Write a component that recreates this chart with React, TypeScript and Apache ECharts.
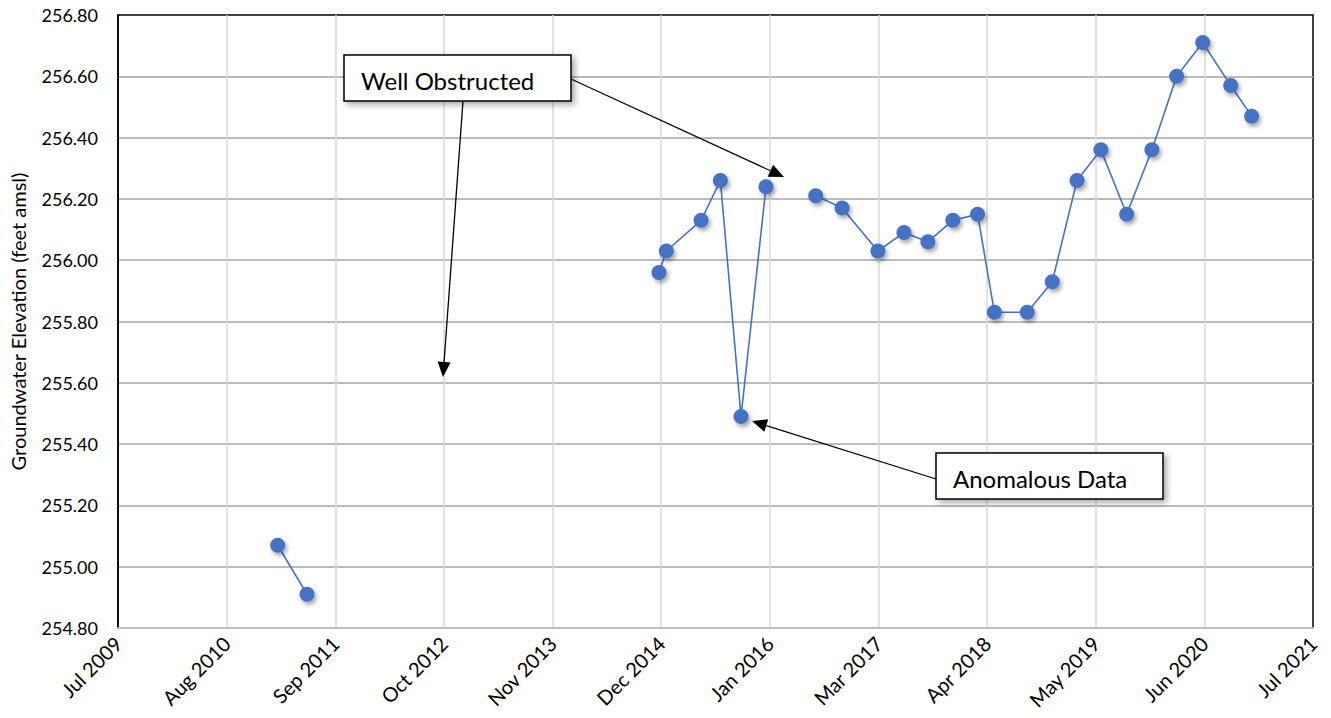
import React, { useEffect, useRef } from "react";
import * as echarts from "echarts";

// Groundwater elevation readings (feet amsl), split where the record has gaps
const dates2011 = ["2011-02-14", "2011-06-02"];
const levels2011 = [255.07, 254.91];

const dates2014 = ["2014-12-19", "2015-01-15", "2015-05-23", "2015-08-02", "2015-10-17", "2016-01-17"];
const levels2014 = [255.96, 256.03, 256.13, 256.26, 255.49, 256.24];

const dates2016 = [
  "2016-07-18", "2016-10-23", "2017-03-04", "2017-06-08", "2017-09-04", "2017-12-05",
  "2018-03-06", "2018-05-07", "2018-09-05", "2018-12-06", "2019-03-07", "2019-06-03",
  "2019-09-06", "2019-12-08", "2020-03-08", "2020-06-12", "2020-09-23", "2020-12-09",
];
const levels2016 = [
  256.21, 256.17, 256.03, 256.09, 256.06, 256.13,
  256.15, 255.83, 255.83, 255.93, 256.26, 256.36,
  256.15, 256.36, 256.60, 256.71, 256.57, 256.47,
];

// Axis settings (Excel-style date serials)
const xMin = 40000;
const xMax = 44400;
const xStep = 400;
const yMin = 254.8;
const yMax = 256.8;
const yStep = 0.2;

const MONTHS = ["Jan", "Feb", "Mar", "Apr", "May", "Jun", "Jul", "Aug", "Sep", "Oct", "Nov", "Dec"];
const EPOCH = Date.UTC(1899, 11, 30);
const toSerial = (s: string) => {
  const [y, m, d] = s.split("-").map(Number);
  return Math.round((Date.UTC(y, m - 1, d) - EPOCH) / 86400000);
};
const serialLabel = (v: number) => {
  const dt = new Date(EPOCH + v * 86400000);
  return MONTHS[dt.getUTCMonth()] + " " + dt.getUTCFullYear();
};

const FONT = "Lato, 'Open Sans', sans-serif";
const BLUE = "#4472C4";

function arrow(x1: number, y1: number, x2: number, y2: number) {
  const len = 15;
  const hw = 6.5;
  const dx = x2 - x1;
  const dy = y2 - y1;
  const L = Math.hypot(dx, dy);
  const ux = dx / L;
  const uy = dy / L;
  const bx = x2 - ux * len;
  const by = y2 - uy * len;
  return [
    { type: "line", z: 50, shape: { x1, y1, x2: bx, y2: by }, style: { stroke: "#000", lineWidth: 1.3 } },
    {
      type: "polygon",
      z: 50,
      shape: { points: [[x2, y2], [bx - uy * hw, by + ux * hw], [bx + uy * hw, by - ux * hw]] },
      style: { fill: "#000" },
    },
  ];
}

function box(x: number, y: number, w: number, h: number, text: string, tx: number) {
  return [
    {
      type: "rect",
      z: 60,
      shape: { x, y, width: w, height: h },
      style: {
        fill: "#fff",
        stroke: "#000",
        lineWidth: 1.5,
        shadowBlur: 6,
        shadowOffsetX: 3,
        shadowOffsetY: 3,
        shadowColor: "rgba(0,0,0,0.35)",
      },
    },
    {
      type: "text",
      z: 61,
      x: tx,
      y: y + h / 2 + 2,
      style: { text, fontSize: 24, fontFamily: FONT, fill: "#000", verticalAlign: "middle", align: "left" },
    },
  ];
}

function makeSeries(dates: string[], levels: number[]) {
  return {
    type: "line",
    data: dates.map((d, i) => [toSerial(d), levels[i]]),
    symbol: "circle",
    symbolSize: 15,
    itemStyle: {
      color: BLUE,
      shadowBlur: 4,
      shadowOffsetX: 2,
      shadowOffsetY: 3,
      shadowColor: "rgba(0,0,0,0.35)",
    },
    lineStyle: { color: BLUE, width: 1.6 },
    z: 10,
  };
}

export default function App() {
  const ref = useRef<HTMLDivElement>(null);
  useEffect(() => {
    if (!ref.current) return;
    const chart = echarts.init(ref.current, null, { renderer: "svg" });
    chart.setOption({
      animation: false,
      backgroundColor: "#fff",
      grid: {
        left: 118,
        right: 18,
        top: 15,
        bottom: 90,
        show: true,
        borderColor: "#000",
        borderWidth: 1.5,
        backgroundColor: "transparent",
      },
      xAxis: {
        type: "value",
        min: xMin,
        max: xMax,
        interval: xStep,
        axisLine: { show: true, lineStyle: { color: "#bfbfbf", width: 2 } },
        axisTick: { show: false },
        axisLabel: {
          rotate: 45,
          margin: 12,
          fontSize: 20,
          fontFamily: FONT,
          color: "#000",
          formatter: (v: number) => serialLabel(v),
        },
        splitLine: { show: true, showMinLine: false, showMaxLine: false, lineStyle: { color: "#d9d9d9", width: 1.5 } },
      },
      yAxis: {
        type: "value",
        min: yMin,
        max: yMax,
        interval: yStep,
        name: "Groundwater Elevation (feet amsl)",
        nameLocation: "middle",
        nameGap: 90,
        nameTextStyle: { fontSize: 20, fontFamily: FONT, color: "#000" },
        axisLine: { show: true, lineStyle: { color: "#000", width: 1.5 } },
        axisTick: { show: false },
        axisLabel: {
          margin: 20,
          fontSize: 18,
          fontFamily: FONT,
          color: "#000",
          formatter: (v: number) => v.toFixed(2),
        },
        splitLine: { show: true, showMinLine: false, showMaxLine: false, lineStyle: { color: "#a6a6a6", width: 1.5 } },
      },
      series: [
        makeSeries(dates2011, levels2011),
        makeSeries(dates2014, levels2014),
        makeSeries(dates2016, levels2016),
      ],
      graphic: [
        ...arrow(571, 79, 784, 177),
        ...arrow(463, 101, 443, 377),
        ...arrow(936, 479, 752, 421),
        ...box(344, 55, 227, 46, "Well Obstructed", 361),
        ...box(936, 453, 227, 46, "Anomalous Data", 953),
      ],
    });
    return () => chart.dispose();
  }, []);
  return (
    <div
      ref={ref}
      style={{ position: "absolute", left: 0, top: 0, width: 1331, height: 718 }}
    />
  );
}
